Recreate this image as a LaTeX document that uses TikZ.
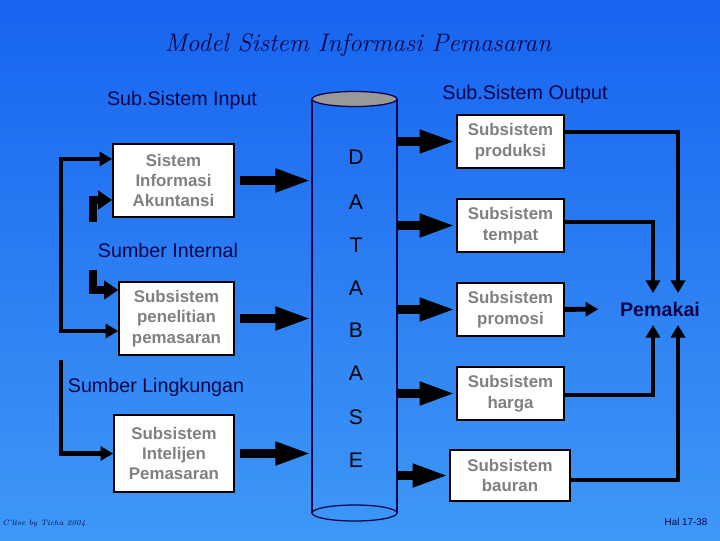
\documentclass[tikz,border=0pt]{standalone}
\usepackage{fontspec}
\setsansfont{Liberation Sans}
\usetikzlibrary{arrows.meta,calc}

\definecolor{bgtop}{RGB}{24,100,240}
\definecolor{bgbot}{RGB}{62,152,246}
\definecolor{navy}{RGB}{5,5,75}
\definecolor{boxgray}{RGB}{128,128,128}

\tikzset{
  subbox/.style={draw=black, line width=1.2pt, fill=white, text=boxgray,
    font=\sffamily\bfseries\fontsize{12}{14.5}\selectfont, align=center, inner sep=0pt},
  label/.style={text=navy, font=\sffamily\fontsize{14}{16}\selectfont},
  dbletter/.style={text=black!85!navy, font=\sffamily\fontsize{15}{18}\selectfont},
  blockarrow/.style={line width=7pt, -{Triangle[length=26pt,width=15pt]}},
  feed/.style={line width=3.5pt, -{Triangle[length=9pt,width=10pt]}},
  feedthick/.style={line width=5.5pt, -{Triangle[length=10pt,width=13pt]}}
}

\begin{document}
\begin{tikzpicture}[x=0.025cm, y=-0.025cm]

    % --- Background (720 x 540 px, y runs downwards) ---
    \shade[top color=bgtop, bottom color=bgbot] (0,0) rectangle (720,540);
    \useasboundingbox (0,0) rectangle (720,540);

    % --- Title and headings ---
    \node[text=navy, font=\rmfamily\itshape\fontsize{18}{21}\selectfont] (title) at (358,45) {Model Sistem Informasi Pemasaran};
    \node[label] (hin) at (182,100) {Sub.Sistem Input};
    \node[label] (hout) at (525,94) {Sub.Sistem Output};

    % --- Input subsystems (left column) ---
    \node[subbox, minimum width=121*0.025cm, minimum height=73*0.025cm] (sia) at (173.5,180.5) {Sistem\\Informasi\\Akuntansi};
    \node[subbox, minimum width=115*0.025cm, minimum height=73*0.025cm] (spp) at (176.5,318.5) {Subsistem\\penelitian\\pemasaran};
    \node[subbox, minimum width=120*0.025cm, minimum height=77*0.025cm] (sip) at (174,453.5) {Subsistem\\Intelijen\\Pemasaran};

    % Source labels
    \node[label] (intern) at (168,250) {Sumber Internal};
    \node[label] (lingk) at (156,387) {Sumber Lingkungan};

    % --- Database cylinder ---
    % Left side at x=312, right side at x=397
    \coordinate (dbL) at (312,300);
    \coordinate (dbR) at (397,300);
    \draw[navy, line width=0.9pt] (312,99) -- (312,513);
    \draw[navy, line width=0.9pt] (397,99) -- (397,513);
    \draw[navy, line width=0.9pt, fill=gray!80] (354.5,99) ellipse [x radius=42.5, y radius=7.5];
    \draw[navy, line width=0.9pt] (354.5,513) ellipse [x radius=42.5, y radius=8];
    % Letters of DATABASE down the cylinder
    \foreach \ch/\yy [count=\i] in {D/157, A/202, T/245, A/288, B/330, A/373, S/417, E/460}
        \node[dbletter] (db\i) at (356,\yy) {\ch};

    % --- Output subsystems (right column) ---
    \node[subbox, minimum width=107*0.025cm, minimum height=53*0.025cm] (prod) at (510.5,141.5) {Subsistem\\produksi};
    \node[subbox, minimum width=107*0.025cm, minimum height=53*0.025cm] (tmp) at (510.5,225.5) {Subsistem\\tempat};
    \node[subbox, minimum width=107*0.025cm, minimum height=53*0.025cm] (prom) at (510.5,309.5) {Subsistem\\promosi};
    \node[subbox, minimum width=107*0.025cm, minimum height=53*0.025cm] (hrg) at (510.5,393.5) {Subsistem\\harga};
    \node[subbox, minimum width=120*0.025cm, minimum height=51*0.025cm] (baur) at (510,475.5) {Subsistem\\bauran};

    % User
    \node[text=navy, font=\sffamily\bfseries\fontsize{14}{16}\selectfont] (pm) at (660,309) {Pemakai};

    % --- Block arrows into and out of the database ---
    \foreach \b in {sia, spp, sip}
        \draw[blockarrow, shorten <=4pt] (\b) -- (\b -| dbL);
    \foreach \b in {prod, tmp, prom, hrg, baur}
        \draw[blockarrow] (\b -| dbR) -- (\b);

    % --- Feedback lines on the left ---
    \coordinate (lpTop) at (61,159);
    \coordinate (lpBot) at (61,331);
    \draw[feed, {Triangle[length=9pt,width=10pt]}-{Triangle[length=9pt,width=10pt]}]
        (sia.west |- lpTop) -- (lpTop) -- (lpBot) -- (spp.west |- lpBot);
    % Internal source arrows
    \coordinate (inA) at (93,222);
    \coordinate (inB) at (93,270);
    \draw[feedthick] (inA) |- ($(sia.west)+(0,19.5)$);
    \draw[feedthick] (inB) |- ($(spp.west)+(0,-28.5)$);
    % Environment source arrow
    \coordinate (lkTop) at (61,360);
    \draw[feed] (lkTop) |- (sip.west);

    % --- Lines to the user ---
    \coordinate (pmTR) at (678,293);
    \coordinate (pmTL) at (653,293);
    \coordinate (pmBR) at (678,325);
    \coordinate (pmBL) at (653,325);
    \draw[feed] ($(prod.east)+(0,-9.5)$) -| (pmTR);
    \draw[feed] ($(tmp.east)+(0,-3.5)$) -| (pmTL);
    \draw[feed, shorten >=12pt] (prom) -- (pm);
    \draw[feed] ($(hrg.east)+(0,1.5)$) -| (pmBL);
    \draw[feed] ($(baur.east)+(0,4.5)$) -| (pmBR);

    % --- Footer ---
    \node[text=navy, font=\rmfamily\itshape\fontsize{5.5}{6}\selectfont] (credit) at (44,524) {C'live by Ticha 2004};
    \node[text=navy, font=\sffamily\fontsize{7}{8}\selectfont] (page) at (686,522) {Hal 17-38};

\end{tikzpicture}
\end{document}
